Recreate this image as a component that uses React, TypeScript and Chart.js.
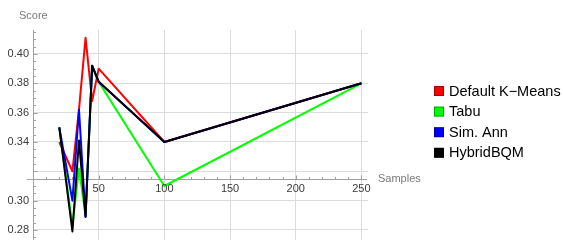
import React, { useEffect, useRef } from "react";
import { Chart, registerables } from "chart.js";

Chart.register(...registerables);

const samples = [20, 30, 35, 40, 45, 50, 100, 250];
const defaultKMeans = [0.34, 0.32, 0.362, 0.411, 0.368, 0.39, 0.34, 0.38];
const tabu = [0.35, 0.283, 0.322, 0.29, 0.392, 0.381, 0.31, 0.38];
const simAnn = [0.35, 0.3, 0.362, 0.289, 0.392, 0.381, 0.34, 0.38];
const hybridBQM = [0.35, 0.279, 0.341, 0.289, 0.392, 0.381, 0.34, 0.38];

const seriesNames = ["Default K\u2212Means", "Tabu", "Sim. Ann", "HybridBQM"];
const seriesColors = ["#ff0000", "#00ff00", "#0000ff", "#000000"];

const xTicks = [50, 100, 150, 200, 250];
const xTickLabels = ["50", "100", "150", "200", "250"];
const yTicks = [0.28, 0.3, 0.32, 0.34, 0.36, 0.38, 0.4];
const yTickLabels = ["0.28", "0.30", "", "0.34", "0.36", "0.38", "0.40"];
const xMinorTicks = [10, 20, 30, 40, 60, 70, 80, 90, 110, 120, 130, 140, 160, 170, 180, 190, 210, 220, 230, 240];
const yMinorTicks = [0.275, 0.285, 0.29, 0.295, 0.305, 0.31, 0.315, 0.325, 0.33, 0.335, 0.345, 0.35, 0.355, 0.365, 0.37, 0.375, 0.385, 0.39, 0.395, 0.405, 0.41, 0.415];

const xAxisTitle = "Samples";
const yAxisTitle = "Score";

const X_MIN = 0;
const X_MAX = 255;
const Y_MIN = 0.27318;
const Y_MAX = 0.41636;
const AXIS_CROSS_Y = 0.3148;

const FONT = "'Liberation Sans', Arial, sans-serif";

const mmaPlugin = {
  id: "mmaAxes",
  beforeDatasetsDraw(chart: any) {
    const { ctx, scales, chartArea } = chart;
    const x = scales.x;
    const y = scales.y;
    const ax = Math.round(x.getPixelForValue(0)) + 0.5;
    const ay = Math.round(y.getPixelForValue(AXIS_CROSS_Y)) + 0.5;
    ctx.save();
    ctx.strokeStyle = "#a0a0a0";
    ctx.lineWidth = 1;
    ctx.beginPath();
    ctx.moveTo(chartArea.left - 6, ay);
    ctx.lineTo(chartArea.right - 1, ay);
    ctx.moveTo(ax, chartArea.top);
    ctx.lineTo(ax, chartArea.bottom);
    xTicks.forEach((v) => {
      const px = Math.round(x.getPixelForValue(v)) + 0.5;
      ctx.moveTo(px, ay);
      ctx.lineTo(px, ay - 4);
    });
    xMinorTicks.forEach((v) => {
      const px = Math.round(x.getPixelForValue(v)) + 0.5;
      ctx.moveTo(px, ay);
      ctx.lineTo(px, ay - 2.5);
    });
    yTicks.forEach((v) => {
      const py = Math.round(y.getPixelForValue(v)) + 0.5;
      ctx.moveTo(ax, py);
      ctx.lineTo(ax + 4, py);
    });
    yMinorTicks.forEach((v) => {
      const py = Math.round(y.getPixelForValue(v)) + 0.5;
      ctx.moveTo(ax, py);
      ctx.lineTo(ax + 2.5, py);
    });
    ctx.stroke();
    ctx.restore();
  },
  afterDraw(chart: any) {
    const { ctx, scales } = chart;
    const x = scales.x;
    const y = scales.y;
    const ax = x.getPixelForValue(0);
    const ay = y.getPixelForValue(AXIS_CROSS_Y);
    ctx.save();
    ctx.font = `11px ${FONT}`;
    ctx.fillStyle = "#3a3a3a";
    ctx.textAlign = "center";
    ctx.textBaseline = "middle";
    xTicks.forEach((v, i) => {
      ctx.fillText(xTickLabels[i], x.getPixelForValue(v), ay + 10);
    });
    ctx.textAlign = "right";
    yTicks.forEach((v, i) => {
      if (yTickLabels[i]) ctx.fillText(yTickLabels[i], ax - 4, y.getPixelForValue(v));
    });
    ctx.fillStyle = "#7a7a7a";
    ctx.textAlign = "left";
    ctx.fillText(xAxisTitle, x.getPixelForValue(X_MAX) + 10, ay);
    ctx.fillText(yAxisTitle, 19, 16);

    const lx = 434;
    const ly0 = 91;
    const step = 20.6;
    ctx.font = `14.5px ${FONT}`;
    seriesNames.forEach((name, i) => {
      const cy = ly0 + i * step;
      ctx.fillStyle = seriesColors[i];
      ctx.fillRect(lx, cy - 5, 10, 10);
      ctx.strokeStyle = "rgba(0,0,0,0.35)";
      ctx.lineWidth = 1;
      ctx.strokeRect(lx + 0.5, cy - 4.5, 9, 9);
      ctx.fillStyle = "#000";
      ctx.fillText(name, lx + 15, cy + 0.5);
    });
    ctx.restore();
  },
};

export default function App() {
  const canvasRef = useRef<HTMLCanvasElement | null>(null);

  useEffect(() => {
    document.body.style.margin = "0";
    const canvas = canvasRef.current;
    if (!canvas) return;
    const series = [defaultKMeans, tabu, simAnn, hybridBQM];
    const orders = [3, 2, 1, 0];
    const chart = new Chart(canvas, {
      type: "line",
      data: {
        datasets: series.map((vals, i) => ({
          label: seriesNames[i],
          data: samples.map((s, j) => ({ x: s, y: vals[j] })),
          borderColor: seriesColors[i],
          backgroundColor: seriesColors[i],
          borderWidth: 2,
          borderJoinStyle: "round",
          pointRadius: 0,
          tension: 0,
          fill: false,
          order: orders[i],
        })),
      },
      options: {
        responsive: false,
        animation: false,
        devicePixelRatio: 1,
        layout: { padding: { left: 33, right: 195, top: 30, bottom: 0 } },
        plugins: { legend: { display: false }, tooltip: { enabled: false } },
        scales: {
          x: {
            type: "linear",
            min: X_MIN,
            max: X_MAX,
            afterBuildTicks: (s: any) => {
              s.ticks = xTicks.map((v) => ({ value: v }));
            },
            afterFit: (s: any) => {
              s.height = 0;
            },
            ticks: { display: false },
            border: { display: false },
            grid: { color: "#dcdcdc", lineWidth: 1, drawTicks: false },
          },
          y: {
            type: "linear",
            min: Y_MIN,
            max: Y_MAX,
            afterBuildTicks: (s: any) => {
              s.ticks = yTicks.map((v) => ({ value: v }));
            },
            afterFit: (s: any) => {
              s.width = 0;
            },
            ticks: { display: false },
            border: { display: false },
            grid: { color: "#dcdcdc", lineWidth: 1, drawTicks: false },
          },
        },
      },
      plugins: [mmaPlugin],
    } as any);
    return () => chart.destroy();
  }, []);

  return (
    <div style={{ position: "fixed", left: 0, top: 0, width: 563, height: 240, background: "#fff" }}>
      <canvas ref={canvasRef} width={563} height={240} style={{ width: 563, height: 240, display: "block" }} />
    </div>
  );
}
